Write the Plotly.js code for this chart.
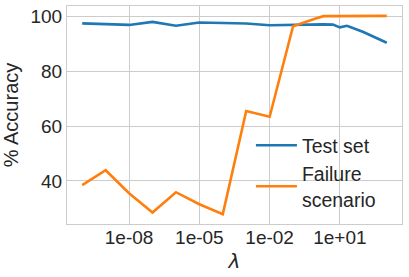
<!DOCTYPE html>
<html>
<head>
<meta charset="utf-8">
<script src="https://cdn.plot.ly/plotly-3.0.1.min.js"></script>
<style>html,body{margin:0;padding:0;background:#fff;}#chart{width:409px;height:277px;}</style>
</head>
<body>
<div id="chart"></div>
<script>
const lambdas = [1e-10, 1e-9, 1e-8, 1e-7, 1e-6, 1e-5, 1e-4, 1e-3, 1e-2, 1e-1, 1, 2, 5, 10, 20, 100, 1000];
const testSet = [97.45, 97.2, 96.9, 98.0, 96.6, 97.8, 97.7, 97.4, 96.8, 97.0, 97.2, 97.1, 97.0, 96.0, 96.6, 94.3, 90.4];
const failureScenario = [38.5, 43.9, 35.5, 28.5, 35.9, 31.5, 27.9, 65.5, 63.4, 96.4, 99.3, 100.1, 100.1, 100.1, 100.1, 100.0, 100.2];
const xTickVals = [1e-8, 1e-5, 1e-2, 10];
const xTickText = ["1e-08", "1e-05", "1e-02", "1e+01"];
const yTickVals = [40, 60, 80, 100];
const seriesNames = ["Test set", "Failure<br>scenario"];

const font = "Liberation Sans, Arial, sans-serif";
const traces = [
  {x: lambdas, y: testSet, name: seriesNames[0], mode: "lines", line: {color: "#1f77b4", width: 2.6}},
  {x: lambdas, y: failureScenario, name: seriesNames[1], mode: "lines", line: {color: "#ff7f0e", width: 2.6}}
];
const layout = {
  width: 409, height: 277,
  margin: {l: 67, r: 7, t: 6, b: 52.5, pad: 0},
  paper_bgcolor: "#fff", plot_bgcolor: "#fff",
  font: {family: font, size: 19, color: "#262626"},
  showlegend: true,
  legend: {x: 0.549, y: 0.449, xanchor: "left", yanchor: "top", bgcolor: "rgba(0,0,0,0)", borderwidth: 0,
           itemwidth: 41, tracegroupgap: 0,
           font: {family: font, size: 19.5, color: "#262626"}},
  xaxis: {
    type: "log", range: [-10.65, 3.65],
    tickvals: xTickVals, ticktext: xTickText,
    showgrid: true, gridcolor: "#cccccc", gridwidth: 1,
    showline: true, linecolor: "#cccccc", linewidth: 1, mirror: true,
    ticks: "", zeroline: false, ticklabelstandoff: -4,
    tickfont: {family: font, size: 19, color: "#262626"},
    title: {text: "<i>λ</i>", font: {family: "DejaVu Sans, sans-serif", size: 20, color: "#262626"}, standoff: 7}
  },
  yaxis: {
    range: [24.3, 103.8],
    tickvals: yTickVals,
    showgrid: true, gridcolor: "#cccccc", gridwidth: 1,
    showline: true, linecolor: "#cccccc", linewidth: 1, mirror: true,
    ticks: "", zeroline: false,
    tickfont: {family: font, size: 19, color: "#262626"},
    title: {text: "% Accuracy", font: {family: font, size: 20, color: "#262626"}, standoff: 6}
  }
};
Plotly.newPlot("chart", traces, layout, {displayModeBar: false, staticPlot: true});
</script>
</body>
</html>
